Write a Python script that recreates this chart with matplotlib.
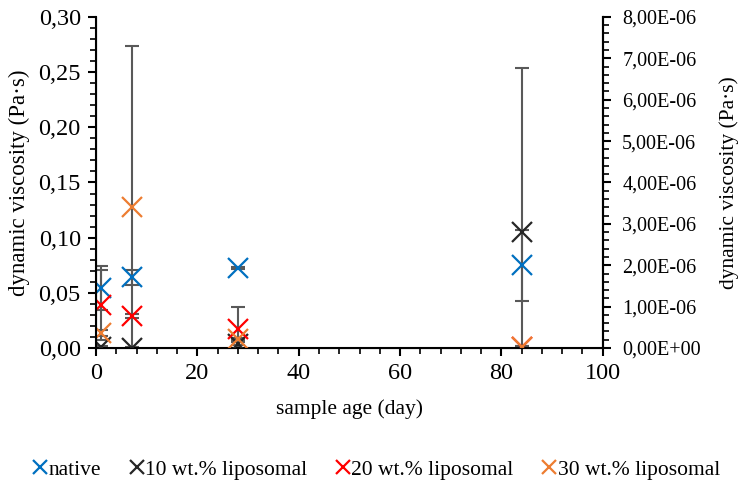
import numpy as np
import matplotlib
matplotlib.use("Agg")
import matplotlib.pyplot as plt
from matplotlib.ticker import MultipleLocator, FuncFormatter

plt.rcParams["font.family"] = ["Liberation Serif", "DejaVu Serif"]

# sample age (day)
days = [1, 7, 28, 84]

# dynamic viscosity (Pa·s) per series and the error bars
native = [0.054, 0.064, 0.0725, 0.075]
native_err = [0.020, 0.007, 0.001, 0.032]
lipo10 = [0.001, 0.0003, 0.004, 0.105]
lipo10_err = [0.001, 0.0005, 0.001, 0.149]
lipo20 = [0.039, 0.029, 0.017, 0.001]
lipo20_err = [0.032, 0.002, 0.020, 0.001]
lipo30 = [0.0135, 0.128, 0.008, 0.001]
lipo30_err = [0.003, 0.146, 0.001, 0.001]

series_names = ["native", "10 wt.% liposomal", "20 wt.% liposomal",
                "30 wt.% liposomal"]
series_colors = ["#0070C0", "#262626", "#FF0000", "#ED7D31"]

fig = plt.figure(figsize=(7.45, 4.84), dpi=100)
ax = fig.add_axes([0.129, 0.281, 0.680, 0.684])

values = [native, lipo10, lipo20, lipo30]
errors = [native_err, lipo10_err, lipo20_err, lipo30_err]
for vals, errs, color, name in zip(values, errors, series_colors, series_names):
    ax.errorbar(days, vals, yerr=errs, fmt="none", ecolor="#595959",
                elinewidth=1.5, capsize=5, capthick=1.5, zorder=2)
    ax.plot(days, vals, linestyle="none", marker="x", markersize=15,
            markeredgewidth=1.6, color=color, label=name, zorder=3)

ax.set_xlim(0, 100)
ax.set_ylim(0, 0.30)
ax.xaxis.set_major_locator(MultipleLocator(20))
ax.xaxis.set_minor_locator(MultipleLocator(4))
ax.yaxis.set_major_locator(MultipleLocator(0.05))
ax.yaxis.set_minor_locator(MultipleLocator(0.01))
ax.yaxis.set_major_formatter(
    FuncFormatter(lambda v, p: f"{v:.2f}".replace(".", ",")))

ax.spines["top"].set_visible(False)
for side in ["left", "bottom", "right"]:
    ax.spines[side].set_linewidth(1.5)
ax.tick_params(which="major", length=6, width=1.5, labelsize=17.5, pad=5)
ax.tick_params(which="minor", length=4, width=1.2)

ax.set_xlabel("sample age (day)", fontsize=15.5, labelpad=11)
ax.set_ylabel("dynamic viscosity (Pa·s)", fontsize=16.5, labelpad=6)

ax2 = ax.twinx()
ax2.set_ylim(0, 8e-6)
ax2.yaxis.set_major_locator(MultipleLocator(1e-6))
ax2.yaxis.set_minor_locator(MultipleLocator(2e-7))


def sci_comma(v, pos):
    mant, expo = f"{v:.2E}".split("E")
    return f"{mant.replace('.', ',')}E{expo}"


ax2.yaxis.set_major_formatter(FuncFormatter(sci_comma))
ax2.spines["top"].set_visible(False)
ax2.spines["right"].set_linewidth(1.5)
ax2.tick_params(which="major", length=6, width=1.5, labelsize=14.5, pad=8)
ax2.tick_params(which="minor", length=4, width=1.2)
ax2.set_ylabel("dynamic viscosity (Pa·s)", fontsize=15.5, labelpad=13)

ax.legend(loc="center", bbox_to_anchor=(0.505, 0.03),
          bbox_transform=fig.transFigure,
          ncol=4, frameon=False, fontsize=15.5, handlelength=0.7,
          handletextpad=0.05, columnspacing=1.3, markerscale=0.65)

fig.savefig("out.png", dpi=100)
